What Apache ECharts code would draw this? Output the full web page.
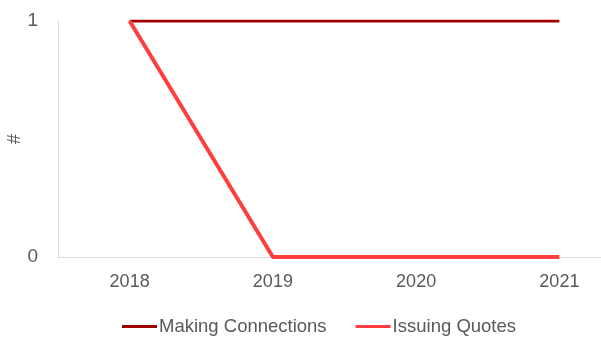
<!DOCTYPE html>
<html>
<head>
<meta charset="utf-8">
<script src="https://cdn.jsdelivr.net/npm/echarts@6/dist/echarts.min.js"></script>
<style>
html,body{margin:0;padding:0;background:#fff;}
#chart{width:601px;height:338px;}
</style>
</head>
<body>
<div id="chart"></div>
<script>
const years = ['2018', '2019', '2020', '2021'];
const makingConnections = [1, 1, 1, 1];
const issuingQuotes = [1, 0, 0, 0];
const yTicks = [0, 1];

const FONT = '"Liberation Sans", Arial, sans-serif';
const chart = echarts.init(document.getElementById('chart'), null, {renderer: 'canvas'});

chart.setOption({
  animation: false,
  backgroundColor: '#ffffff',
  grid: {left: 58, right: -30, top: 21, bottom: 81, containLabel: false, outerBoundsMode: 'none'},
  legend: {
    left: 122,
    top: 317,
    padding: 0,
    itemWidth: 35,
    itemHeight: 3,
    itemGap: 29,
    icon: 'rect',
    textStyle: {fontFamily: FONT, fontSize: 18.5, color: '#595959', padding: [0, 0, 0, -3]},
    data: ['Making Connections', 'Issuing Quotes']
  },
  xAxis: {
    type: 'category',
    data: years,
    boundaryGap: true,
    axisLine: {show: true, lineStyle: {color: '#d9d9d9', width: 1}},
    axisTick: {show: false},
    axisLabel: {fontFamily: FONT, fontSize: 18, color: '#595959', margin: 16}
  },
  yAxis: {
    type: 'value',
    min: yTicks[0],
    max: yTicks[yTicks.length - 1],
    interval: 1,
    name: '#',
    nameLocation: 'middle',
    nameGap: 34,
    nameRotate: 90,
    nameMoveOverlap: false,
    nameTextStyle: {fontFamily: FONT, fontSize: 18, color: '#595959'},
    axisLine: {show: true, lineStyle: {color: '#d9d9d9', width: 1}},
    axisTick: {show: false},
    splitLine: {show: false},
    axisLabel: {fontFamily: FONT, fontSize: 19, color: '#595959', margin: 20}
  },
  series: [
    {
      name: 'Making Connections',
      type: 'line',
      data: makingConnections,
      symbol: 'none',
      z: 2,
      itemStyle: {color: '#a00000'},
      lineStyle: {color: '#a00000', width: 3}
    },
    {
      name: 'Issuing Quotes',
      type: 'line',
      data: issuingQuotes,
      symbol: 'none',
      z: 3,
      itemStyle: {color: '#ff3f3f'},
      lineStyle: {color: '#ff3f3f', width: 4}
    }
  ]
});
</script>
</body>
</html>
